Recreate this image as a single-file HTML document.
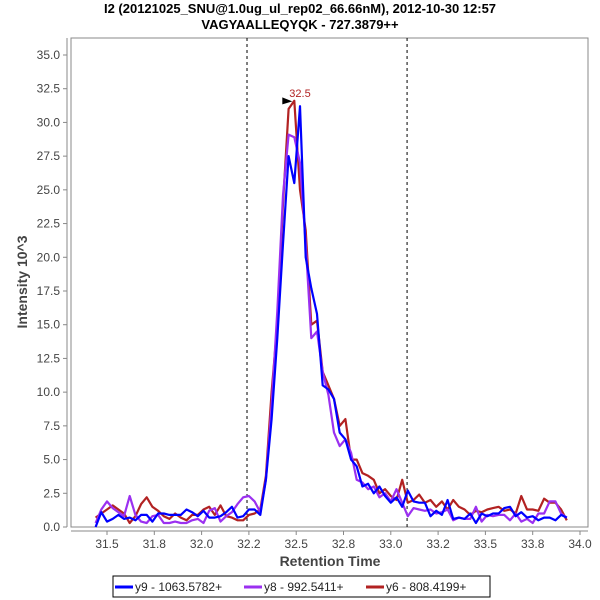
<!DOCTYPE html>
<html><head><meta charset="utf-8"><style>
body{margin:0;background:#fff;}
svg{display:block;font-family:"Liberation Sans","DejaVu Sans",sans-serif;}
</style></head><body>
<svg id="chart" width="600" height="600" viewBox="0 0 600 600" xmlns="http://www.w3.org/2000/svg">
<rect width="600" height="600" fill="#fff"/>
<text x="300" y="13" text-anchor="middle" font-size="13" font-weight="bold" fill="#000">I2 (20121025_SNU@1.0ug_ul_rep02_66.66nM), 2012-10-30 12:57</text>
<text x="300" y="29" text-anchor="middle" font-size="13" font-weight="bold" fill="#000">VAGYAALLEQYQK - 727.3879++</text>
<rect x="71" y="38" width="517" height="489" fill="#fff" stroke="#888" stroke-width="1"/>
<g id="axes"></g>
<g id="series"></g>
<text transform="translate(27,282) rotate(-90)" text-anchor="middle" font-size="14" font-weight="bold" fill="#444">Intensity 10^3</text>
<text x="330" y="566" text-anchor="middle" font-size="14" font-weight="bold" fill="#444">Retention Time</text>
<g>
<rect x="113" y="576" width="377" height="21" fill="#fff" stroke="#000" stroke-width="1"/>
<line x1="115" y1="587" x2="133" y2="587" stroke="#0000ff" stroke-width="3"/>
<text x="135" y="591" font-size="12" fill="#222">y9 - 1063.5782+</text>
<line x1="244" y1="587" x2="262" y2="587" stroke="#9b30f0" stroke-width="3"/>
<text x="264" y="591" font-size="12" fill="#222">y8 - 992.5411+</text>
<line x1="366" y1="587" x2="384" y2="587" stroke="#b22222" stroke-width="3"/>
<text x="386" y="591" font-size="12" fill="#222">y6 - 808.4199+</text>
</g>
</svg>
<script>
const times = [31.44,31.47,31.50,31.53,31.56,31.59,31.62,31.65,31.68,31.71,31.74,31.77,31.80,31.83,31.86,31.89,31.92,31.95,31.98,32.01,32.04,32.07,32.10,32.13,32.16,32.19,32.22,32.25,32.28,32.31,32.34,32.37,32.40,32.43,32.46,32.49,32.52,32.55,32.58,32.61,32.64,32.67,32.70,32.73,32.76,32.79,32.82,32.85,32.88,32.91,32.94,32.97,33.00,33.03,33.06,33.09,33.12,33.15,33.18,33.21,33.24,33.27,33.30,33.33,33.36,33.39,33.42,33.45,33.48,33.51,33.54,33.57,33.60,33.63,33.66,33.69,33.72,33.75,33.78,33.81,33.84,33.87,33.90,33.93];
const y9 = [0,1.1,0.4,0.6,0.9,0.6,0.7,0.5,0.9,0.9,0.4,1.0,1.0,0.9,0.9,0.9,1.3,1.1,0.8,1.2,0.7,0.7,0.8,1.1,1.5,0.7,0.8,1.3,1.3,0.9,
 3.5,8,14,21,27.5,25.5,31.2,20,17.7,15.8,10.5,10.2,9.5,7,6.5,5,4.5,3,3.2,2.5,3,2.3,1.8,2.2,1.5,2.7,
 1.9,1.8,1.8,0.8,1.2,0.9,2.0,0.6,0.7,0.6,1.0,0.3,1.0,0.8,1.0,1.0,1.4,1.5,0.8,1.1,0.7,0.8,0.5,0.7,0.7,0.5,0.9,0.7];
const y8 = [0.3,1.3,1.9,1.4,1.1,0.8,2.3,0.9,0.4,0.3,0.8,0.9,0.3,0.3,0.4,0.3,0.3,0.5,0.6,0.3,1.2,1.4,0.4,0.8,1.1,1.7,2.2,2.3,1.9,1.1,
 3.5,9,16,24.6,29.1,28.9,27,21,14,14.5,11.5,9.8,7,6,6.5,5.5,3.5,3.3,2.8,3,2.2,2.5,1.9,2.8,1.8,0.8,
 1.4,1.3,1.2,1.3,1.0,1.1,1.3,0.5,0.7,0.6,0.6,1.5,0.4,0.9,0.8,0.9,0.9,0.5,1.0,0.4,0.6,0.3,1.0,1.0,1.9,1.9,1.0,0.7];
const y6 = [0.7,1.0,1.3,1.6,1.3,1.0,0.3,0.8,1.7,2.2,1.5,1.2,0.8,0.6,1.0,0.7,0.5,0.9,0.9,1.3,1.5,0.9,1.6,0.8,0.7,0.5,0.5,0.9,1.0,1.3,
 3.8,10,15,24,31,31.6,25,22,15,15.3,11.5,10.5,9.5,7.5,8,5,5,4,3.8,3.5,2.5,2.8,2.3,2,3.5,1.8,
 2.0,2.4,1.8,2.0,1.5,1.9,1.3,2.0,1.5,1.3,0.9,1.2,1.1,1.3,1.4,1.5,1.2,1.3,1.0,2.3,1.3,1.3,1.2,2.1,1.8,1.8,1.3,0.5];
const xTicks = [31.5,31.75,32.0,32.25,32.5,32.75,33.0,33.25,33.5,33.75,34.0];
const xTickLabels = ["31.5","31.8","32.0","32.2","32.5","32.8","33.0","33.2","33.5","33.8","34.0"];
const yTicks = [0,2.5,5,7.5,10,12.5,15,17.5,20,22.5,25,27.5,30,32.5,35];
const boundaries = [32.24,33.086];
const peakLabel = "32.5";

const NS="http://www.w3.org/2000/svg";
function X(v){return 107+(v-31.5)*189.2;}
function Y(v){return 527-v*13.486;}
function mk(tag,attrs,parent){const e=document.createElementNS(NS,tag);for(const k in attrs)e.setAttribute(k,attrs[k]);parent.appendChild(e);return e;}
const axes=document.getElementById('axes');
const ser=document.getElementById('series');
// axis lines
let l=mk('line',{x1:67,y1:38,x2:67,y2:527,stroke:'#888'},axes);


l=mk('line',{x1:71,y1:531,x2:588,y2:531,stroke:'#888'},axes);


yTicks.forEach(v=>{
  const y=Y(v);
  mk('line',{x1:63,y1:y,x2:67,y2:y,stroke:'#888'},axes);
  const t=mk('text',{x:60,y:y+4,'text-anchor':'end','font-size':12,fill:'#444'},axes);
  t.textContent=v.toFixed(1);
  
  
});
xTicks.forEach((v,i)=>{
  const x=X(v);
  mk('line',{x1:x,y1:531,x2:x,y2:535,stroke:'#888'},axes);
  const t=mk('text',{x:x,y:548,'text-anchor':'middle','font-size':12,fill:'#444'},axes);
  t.textContent=xTickLabels[i];
  
  
});
boundaries.forEach(v=>{
  const b=mk('line',{x1:X(v),y1:38,x2:X(v),y2:527,stroke:'#000','stroke-dasharray':'3,3','stroke-width':1},axes);
  
  
});
function drawSeries(vals,color,name){
  const pts=vals.map((v,i)=>X(times[i]).toFixed(1)+','+Y(v).toFixed(1)).join(' ');
  const p=mk('polyline',{points:pts,fill:'none',stroke:color,'stroke-width':2.2,'stroke-linejoin':'round'},ser);
  
  
}
drawSeries(y6,'#b22222','series-y6');
drawSeries(y8,'#9b30f0','series-y8');
drawSeries(y9,'#0000ff','series-y9');
// peak marker on y6 max
let mi=0;y6.forEach((v,i)=>{if(v>y6[mi])mi=i;});
const px=X(times[mi]), py=Y(y6[mi]);
const tri=mk('polygon',{points:(px-12)+','+(py-3.5)+' '+(px-2)+','+(py+0.5)+' '+(px-12)+','+(py+3.5),fill:'#000'},ser);


const pl=mk('text',{x:px-5,y:py-4,'font-size':11,fill:'#b22222'},ser);
pl.textContent=peakLabel;


</script>
</body></html>
